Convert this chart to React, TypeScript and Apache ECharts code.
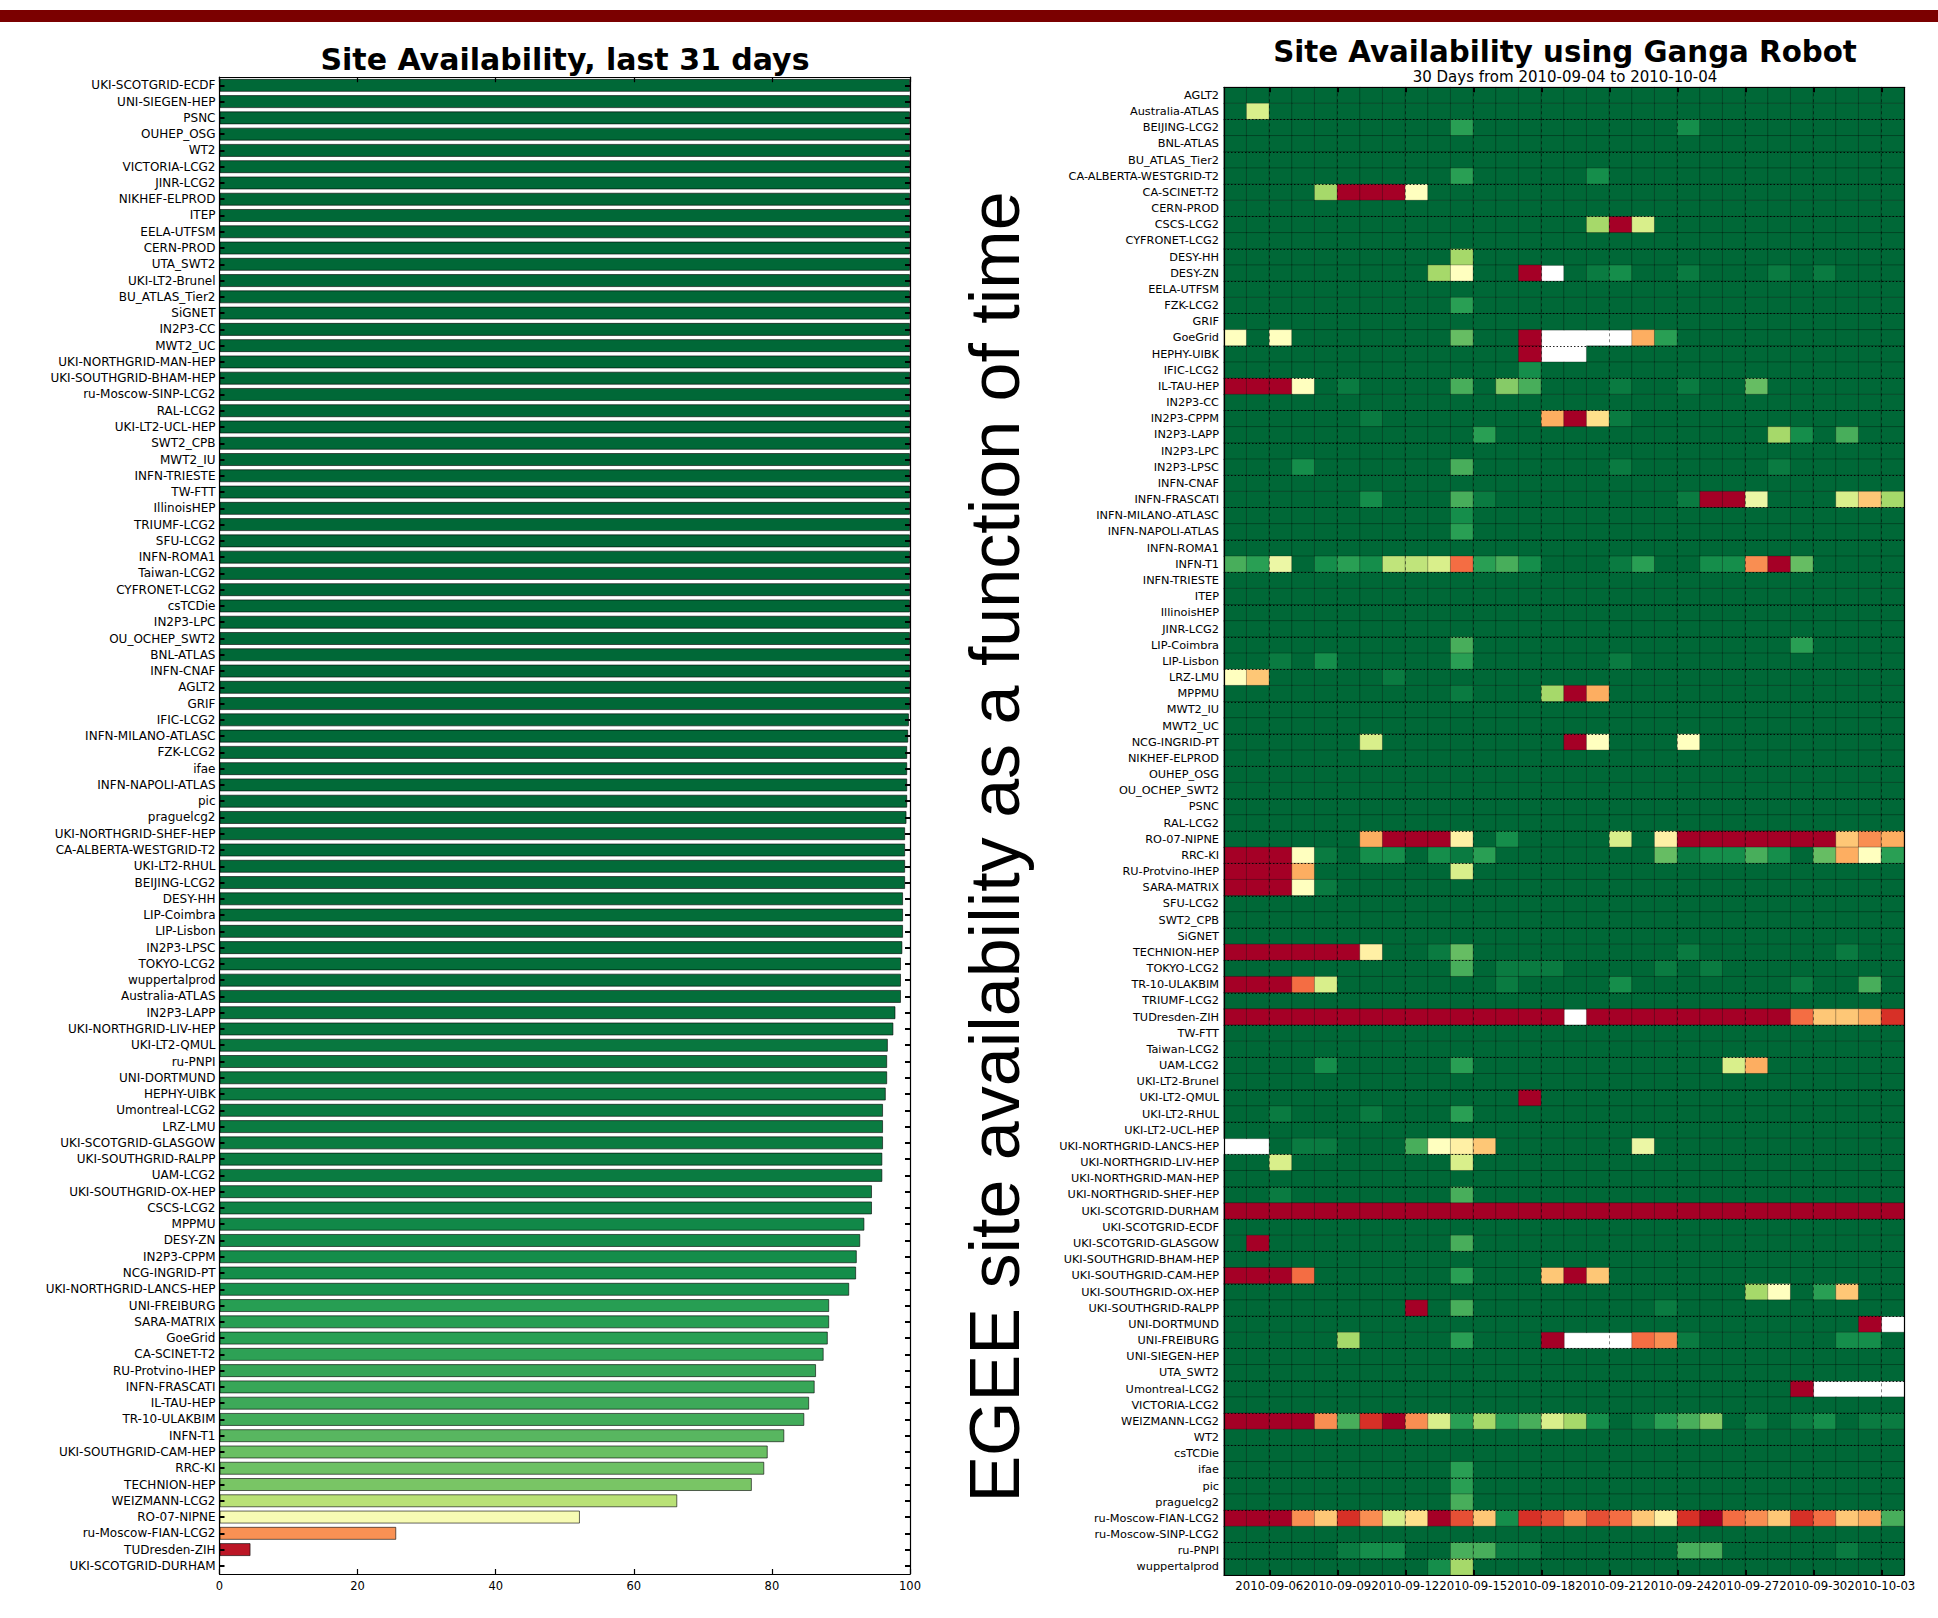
import React, { useEffect, useRef } from "react";
import * as echarts from "echarts";

// ---------- Left chart: availability over last 31 days ----------
const barSites = [
  "UKI-SCOTGRID-ECDF", "UNI-SIEGEN-HEP", "PSNC", "OUHEP_OSG", "WT2", "VICTORIA-LCG2", "JINR-LCG2",
  "NIKHEF-ELPROD", "ITEP", "EELA-UTFSM", "CERN-PROD", "UTA_SWT2", "UKI-LT2-Brunel", "BU_ATLAS_Tier2",
  "SiGNET", "IN2P3-CC", "MWT2_UC", "UKI-NORTHGRID-MAN-HEP", "UKI-SOUTHGRID-BHAM-HEP", "ru-Moscow-SINP-LCG2",
  "RAL-LCG2", "UKI-LT2-UCL-HEP", "SWT2_CPB", "MWT2_IU", "INFN-TRIESTE", "TW-FTT", "IllinoisHEP",
  "TRIUMF-LCG2", "SFU-LCG2", "INFN-ROMA1", "Taiwan-LCG2", "CYFRONET-LCG2", "csTCDie", "IN2P3-LPC",
  "OU_OCHEP_SWT2", "BNL-ATLAS", "INFN-CNAF", "AGLT2", "GRIF", "IFIC-LCG2", "INFN-MILANO-ATLASC",
  "FZK-LCG2", "ifae", "INFN-NAPOLI-ATLAS", "pic", "praguelcg2", "UKI-NORTHGRID-SHEF-HEP",
  "CA-ALBERTA-WESTGRID-T2", "UKI-LT2-RHUL", "BEIJING-LCG2", "DESY-HH", "LIP-Coimbra", "LIP-Lisbon",
  "IN2P3-LPSC", "TOKYO-LCG2", "wuppertalprod", "Australia-ATLAS", "IN2P3-LAPP", "UKI-NORTHGRID-LIV-HEP",
  "UKI-LT2-QMUL", "ru-PNPI", "UNI-DORTMUND", "HEPHY-UIBK", "Umontreal-LCG2", "LRZ-LMU",
  "UKI-SCOTGRID-GLASGOW", "UKI-SOUTHGRID-RALPP", "UAM-LCG2", "UKI-SOUTHGRID-OX-HEP", "CSCS-LCG2",
  "MPPMU", "DESY-ZN", "IN2P3-CPPM", "NCG-INGRID-PT", "UKI-NORTHGRID-LANCS-HEP", "UNI-FREIBURG",
  "SARA-MATRIX", "GoeGrid", "CA-SCINET-T2", "RU-Protvino-IHEP", "INFN-FRASCATI", "IL-TAU-HEP",
  "TR-10-ULAKBIM", "INFN-T1", "UKI-SOUTHGRID-CAM-HEP", "RRC-KI", "TECHNION-HEP", "WEIZMANN-LCG2",
  "RO-07-NIPNE", "ru-Moscow-FIAN-LCG2", "TUDresden-ZIH", "UKI-SCOTGRID-DURHAM",
];

const barValues = [
  100, 100, 100, 100, 100, 100, 100, 100, 100, 100,
  100, 100, 100, 100, 100, 100, 100, 100, 100, 100,
  100, 100, 100, 100, 100, 100, 100, 100, 100, 100,
  100, 100, 100, 100, 100, 100, 100, 100, 100, 99.85,
  99.75, 99.6, 99.6, 99.6, 99.6, 99.5, 99.3, 99.3, 99.3, 99.3,
  99.0, 99.0, 99.0, 98.9, 98.7, 98.7, 98.7, 97.9, 97.6, 96.8,
  96.7, 96.7, 96.5, 96.1, 96.1, 96.1, 96.0, 96.0, 94.5, 94.5,
  93.4, 92.8, 92.3, 92.2, 91.2, 88.3, 88.3, 88.1, 87.5, 86.4,
  86.2, 85.4, 84.7, 81.8, 79.4, 78.9, 77.1, 66.3, 52.2, 25.6,
  4.5, 0,
];

const barTicks = [0, 20, 40, 60, 80, 100];

// ---------- Right chart: daily availability (Ganga Robot) ----------
const heatSites = [
  "AGLT2", "Australia-ATLAS", "BEIJING-LCG2", "BNL-ATLAS", "BU_ATLAS_Tier2", "CA-ALBERTA-WESTGRID-T2",
  "CA-SCINET-T2", "CERN-PROD", "CSCS-LCG2", "CYFRONET-LCG2", "DESY-HH", "DESY-ZN", "EELA-UTFSM",
  "FZK-LCG2", "GRIF", "GoeGrid", "HEPHY-UIBK", "IFIC-LCG2", "IL-TAU-HEP", "IN2P3-CC", "IN2P3-CPPM",
  "IN2P3-LAPP", "IN2P3-LPC", "IN2P3-LPSC", "INFN-CNAF", "INFN-FRASCATI", "INFN-MILANO-ATLASC",
  "INFN-NAPOLI-ATLAS", "INFN-ROMA1", "INFN-T1", "INFN-TRIESTE", "ITEP", "IllinoisHEP", "JINR-LCG2",
  "LIP-Coimbra", "LIP-Lisbon", "LRZ-LMU", "MPPMU", "MWT2_IU", "MWT2_UC", "NCG-INGRID-PT",
  "NIKHEF-ELPROD", "OUHEP_OSG", "OU_OCHEP_SWT2", "PSNC", "RAL-LCG2", "RO-07-NIPNE", "RRC-KI",
  "RU-Protvino-IHEP", "SARA-MATRIX", "SFU-LCG2", "SWT2_CPB", "SiGNET", "TECHNION-HEP", "TOKYO-LCG2",
  "TR-10-ULAKBIM", "TRIUMF-LCG2", "TUDresden-ZIH", "TW-FTT", "Taiwan-LCG2", "UAM-LCG2",
  "UKI-LT2-Brunel", "UKI-LT2-QMUL", "UKI-LT2-RHUL", "UKI-LT2-UCL-HEP", "UKI-NORTHGRID-LANCS-HEP",
  "UKI-NORTHGRID-LIV-HEP", "UKI-NORTHGRID-MAN-HEP", "UKI-NORTHGRID-SHEF-HEP", "UKI-SCOTGRID-DURHAM",
  "UKI-SCOTGRID-ECDF", "UKI-SCOTGRID-GLASGOW", "UKI-SOUTHGRID-BHAM-HEP", "UKI-SOUTHGRID-CAM-HEP",
  "UKI-SOUTHGRID-OX-HEP", "UKI-SOUTHGRID-RALPP", "UNI-DORTMUND", "UNI-FREIBURG", "UNI-SIEGEN-HEP",
  "UTA_SWT2", "Umontreal-LCG2", "VICTORIA-LCG2", "WEIZMANN-LCG2", "WT2", "csTCDie", "ifae", "pic",
  "praguelcg2", "ru-Moscow-FIAN-LCG2", "ru-Moscow-SINP-LCG2", "ru-PNPI", "wuppertalprod",
];

// day boundaries (31 edges), the 30 cells lie between them
const dayEdges = [
  "2010-09-04", "2010-09-05", "2010-09-06", "2010-09-07", "2010-09-08", "2010-09-09", "2010-09-10",
  "2010-09-11", "2010-09-12", "2010-09-13", "2010-09-14", "2010-09-15", "2010-09-16", "2010-09-17",
  "2010-09-18", "2010-09-19", "2010-09-20", "2010-09-21", "2010-09-22", "2010-09-23", "2010-09-24",
  "2010-09-25", "2010-09-26", "2010-09-27", "2010-09-28", "2010-09-29", "2010-09-30", "2010-10-01",
  "2010-10-02", "2010-10-03", "2010-10-04",
];
const days = dayEdges.slice(0, 30);
const tickDays = ["2010-09-06", "2010-09-09", "2010-09-12", "2010-09-15", "2010-09-18",
  "2010-09-21", "2010-09-24", "2010-09-27", "2010-09-30", "2010-10-03"];

// availability code per cell (percent), w = no data
const codeValue: Record<string, number | null> = {
  g: 100, h: 96, i: 92, j: 88, k: 84, "8": 80, l: 75, "7": 70, m: 65, "6": 60, n: 55, "5": 50,
  o: 45, "4": 40, p: 35, "3": 30, q: 25, "2": 20, r: 15, "1": 10, s: 5, "0": 0, w: null,
};

const cellCodes = [
  "ggggg ggggg ggggg ggggg ggggg ggggg", // AGLT2
  "g6ggg ggggg ggggg ggggg ggggg ggggg", // Australia-ATLAS
  "ggggg ggggg jgggg ggggg igggg ggggg", // BEIJING-LCG2
  "ggggg ggggg ggggg ggggg ggggg ggggg", // BNL-ATLAS
  "ggggg ggggg ggggg ggggg ggggg ggggg", // BU_ATLAS_Tier2
  "ggggg ggggg jgggg giggg ggggg ggggg", // CA-ALBERTA-WESTGRID-T2
  "gggg7 0005g ggggg ggggg ggggg ggggg", // CA-SCINET-T2
  "ggggg ggggg ggggg ggggg ggggg ggggg", // CERN-PROD
  "ggggg ggggg ggggg g706g ggggg ggggg", // CSCS-LCG2
  "ggggg ggggg ggggg ggggg ggggg ggggg", // CYFRONET-LCG2
  "ggggg ggggg 7gggg ggggg ggggg ggggg", // DESY-HH
  "ggggg gggg7 5gg0w ghigg hgggh ghggg", // DESY-ZN
  "ggggg ggggg ggggg ggggg ggggg ggggg", // EELA-UTFSM
  "ggggg ggggg jgggg ggggg ggggg ggggg", // FZK-LCG2
  "ggggg ggggg ggggg ggggg ggggg ggggg", // GRIF
  "5g5gg ggggg 8gg0w www3j ggggg ggggg", // GoeGrid
  "ggggg ggggg ggg0w wgggg ggggg ggggg", // HEPHY-UIBK
  "ggggg ggggg gggig ggggg ggggg ggggg", // IFIC-LCG2
  "0005g hgggg kglkg gghgg hgg8g ggggg", // IL-TAU-HEP
  "ggggg ggggg ggggg ggggg ggggg ggggg", // IN2P3-CC
  "ggggg ghggg gggg3 04hgg ggggg ggggg", // IN2P3-CPPM
  "ggggg ggggg gjggg ggggg gggg7 igkgg", // IN2P3-LAPP
  "ggggg ggggg ggggg ggggg ggggg ggggg", // IN2P3-LPC
  "gggig ggggg kgggg gghgg ggggh ggggg", // IN2P3-LPSC
  "ggggg ggggg ggggg ggggg ggggg ggggg", // INFN-CNAF
  "ggggg giggg khggg ggggg h00ng gg6p7", // INFN-FRASCATI
  "ggggg ggggg igggg ggggg ggggg ggggg", // INFN-MILANO-ATLASC
  "ggggg ggggg jgggg ggggg ggggg ggggg", // INFN-NAPOLI-ATLAS
  "ggggg ggggg ggggg ggggg ggggg ggggg", // INFN-ROMA1
  "kjngi jimm6 2jkig gghjg giiq0 8gggg", // INFN-T1
  "ggggg ggggg ggggg ggggg ggggg ggggg", // INFN-TRIESTE
  "ggggg ggggg ggggg ggggg ggggg ggggg", // ITEP
  "ggggg ggggg ggggg ggggg ggggg ggggg", // IllinoisHEP
  "ggggg ggggg ggggg ggggg ggggg ggggg", // JINR-LCG2
  "ggggg ggggg kgggg ggggg ggggg jgggg", // LIP-Coimbra
  "gghgi ggggg jgggg gghgg ggggg ggggg", // LIP-Lisbon
  "5pggg gghgg ggggg ggggg ggggg ggggg", // LRZ-LMU
  "ggggg ggggg hggg7 03ggg ggggg ggggg", // MPPMU
  "ggggg ggggg ggggg ggggg ggggg ggggg", // MWT2_IU
  "ggggg ggggg ggggg ggggg ggggg ggggg", // MWT2_UC
  "ggggg g6ggg ggggg 05ggg 5gggg ggggg", // NCG-INGRID-PT
  "ggggg ggggg ggggg ggggg ggggg ggggg", // NIKHEF-ELPROD
  "ggggg ggggg ggggg ggggg ggggg ggggg", // OUHEP_OSG
  "ggggg ggggg ggggg ggggg ggggg ggggg", // OU_OCHEP_SWT2
  "ggggg ggggg ggggg ggggg ggggg ggggg", // PSNC
  "ggggg ggggg ggggg ggggg ggggg ggggg", // RAL-LCG2
  "ggggg g3000 ogigg gg6go 00000 00pq3", // RO-07-NIPNE
  "0005h giigi hjggg gggg8 hiiki g835j", // RRC-KI
  "0003g ggggg 6gggg ggggg ggggg ggggg", // RU-Protvino-IHEP
  "0005h ggggg ggggg ggggg ggggg ggggg", // SARA-MATRIX
  "ggggg ggggg ggggg ggggg ggggg ggggg", // SFU-LCG2
  "ggggg ggggg ggggg ggggg ggggg ggggg", // SWT2_CPB
  "ggggg ggggg ggggg ggggg ggggg ggggg", // SiGNET
  "00000 0oggh 8gggg ggggg hgggg gghgg", // TECHNION-HEP
  "ggggg ggggg kghhh ggggh ghggg ggggg", // TOKYO-LCG2
  "00026 ggggg gghgg ggigg ggggg hggkg", // TR-10-ULAKBIM
  "ggggg ggggg ggggg ggggg ggggg ggggg", // TRIUMF-LCG2
  "00000 00000 00000 w0000 00000 2pp31", // TUDresden-ZIH
  "ggggg ggggg ggggg ggggg ggggg ggggg", // TW-FTT
  "ggggg ggggg ggggg ggggg ggggg ggggg", // Taiwan-LCG2
  "ggggi ggggg jgggg ggggg gg63g ggggg", // UAM-LCG2
  "ggggg ggggg ggggg ggggg ggggg ggggg", // UKI-LT2-Brunel
  "ggggg ggggg ggg0g ggggg ggggg ggggg", // UKI-LT2-QMUL
  "gghgg ghggg jgggg ggggg ggggg ggggg", // UKI-LT2-RHUL
  "ggggg ggggg ggggg ggggg ggggg ggggg", // UKI-LT2-UCL-HEP
  "wwghh gggk5 opggg gggng ggggg ggggg", // UKI-NORTHGRID-LANCS-HEP
  "gg6gg ggggg 6gggg ggggg ggggg ggggg", // UKI-NORTHGRID-LIV-HEP
  "ggggg ggggg ggggg ggggg ggggg ggggg", // UKI-NORTHGRID-MAN-HEP
  "gghgg ggggg kgggg ggggg ggggg ggggg", // UKI-NORTHGRID-SHEF-HEP
  "00000 00000 00000 00000 00000 00000", // UKI-SCOTGRID-DURHAM
  "ggggg ggggg ggggg ggggg ggggg ggggg", // UKI-SCOTGRID-ECDF
  "g0ggg ggggg kgggg ggggg ggggg ggggg", // UKI-SCOTGRID-GLASGOW
  "ggggg ggggg ggggg ggggg ggggg ggggg", // UKI-SOUTHGRID-BHAM-HEP
  "0002g ggggg jgggp 0pggg ggggg ggggg", // UKI-SOUTHGRID-CAM-HEP
  "ggggg ggggg ggggg ggggg ggg75 gjpgg", // UKI-SOUTHGRID-OX-HEP
  "ggggg ggg0g kgggg ggggh ggggg ggggg", // UKI-SOUTHGRID-RALPP
  "ggggg ggggg ggggg ggggg ggggg ggg0w", // UNI-DORTMUND
  "ggggg 7gggg jggg0 www2q hgggg ggiig", // UNI-FREIBURG
  "ggggg ggggg ggggg ggggg ggggg ggggg", // UNI-SIEGEN-HEP
  "ggggg ggggg ggggg ggggg ggggg ggggg", // UTA_SWT2
  "ggggg ggggg ggggg ggggg ggggg 0wwww", // Umontreal-LCG2
  "ggggg ggggg ggggg ggggg ggggg ggggg", // VICTORIA-LCG2
  "0000q k10q6 j7jk6 7ighj klghg highh", // WEIZMANN-LCG2
  "ggggg ggggg ggggg ggggg ggggg ggggg", // WT2
  "ggggg ggggg ggggg ggggg ggggg ggggg", // csTCDie
  "ggggg ggggg jgggg ggggg ggggg ggggg", // ifae
  "ggggg ggggg jgggg ggggg ggggg ggggg", // pic
  "ggggg ggggg kgggg ggggg ggggg ggggg", // praguelcg2
  "000qp 1q640 rpi1r qr2po 102qp 12p3k", // ru-Moscow-FIAN-LCG2
  "ggggg ggggg ggggg ggggg ggggg ggggg", // ru-Moscow-SINP-LCG2
  "ggggg hiigg kkhhg ggggg kkggg gghgg", // ru-PNPI
  "ggggg ggggi 7gggg ggggg ggggg ggggg", // wuppertalprod
];

const RdYlGn = ["#a50026", "#d73027", "#f46d43", "#fdae61", "#fee08b", "#ffffbf",
  "#d9ef8b", "#a6d96a", "#66bd63", "#1a9850", "#006837"];

const FONT = "DejaVu Sans";

export default function App() {
  const ref = useRef<HTMLDivElement>(null);

  useEffect(() => {
    if (!ref.current) return;
    const chart = echarts.init(ref.current, null, { renderer: "svg" });

    const heatData: number[][] = [];
    cellCodes.forEach((row, r) => {
      row.replace(/ /g, "").split("").forEach((c, d) => {
        const v = codeValue[c];
        if (v !== null && v !== undefined) heatData.push([d, r, v]);
      });
    });

    const barData = barValues.map((v, i) => [v, barSites[i]]);
    const edgeTick = (i: number) => tickDays.indexOf(dayEdges[i]) >= 0;

    const frame = { show: true, onZero: false, lineStyle: { color: "#000", width: 1.2 } };
    const labelStyle = { color: "#000", fontFamily: FONT, fontSize: 11.5 };

    const option: any = {
      animation: false,
      backgroundColor: "#fff",
      textStyle: { fontFamily: FONT },
      graphic: [
        { type: "rect", shape: { x: 0, y: 10, width: 1938, height: 12 }, style: { fill: "#7b0000" } },
        {
          type: "text", x: 565, y: 59,
          style: { text: "Site Availability, last 31 days", fontFamily: FONT, fontWeight: "bold", fontSize: 30, fill: "#000", align: "center", verticalAlign: "middle" },
        },
        {
          type: "text", x: 1565, y: 52,
          style: { text: "Site Availability using Ganga Robot", fontFamily: FONT, fontWeight: "bold", fontSize: 29.3, fill: "#000", align: "center", verticalAlign: "middle" },
        },
        {
          type: "text", x: 1565, y: 77,
          style: { text: "30 Days from 2010-09-04 to 2010-10-04", fontFamily: FONT, fontSize: 15, fill: "#000", align: "center", verticalAlign: "middle" },
        },
        {
          type: "text", x: 995, y: 847, rotation: Math.PI / 2,
          style: { text: "EGEE site availability as a function of time", fontFamily: "Liberation Sans", fontSize: 70, fill: "#000", align: "center", verticalAlign: "middle" },
        },
      ],
      grid: [
        { left: 219.5, top: 77.2, width: 690.5, height: 1496.8 },
        { left: 1224, top: 87.3, width: 680, height: 1487.7 },
      ],
      xAxis: [
        {
          type: "value", gridIndex: 0, position: "bottom", min: 0, max: 100, interval: 20, z: 3,
          axisLine: frame, axisTick: { show: true, inside: true, length: 5, lineStyle: { color: "#000", width: 1.2 } },
          axisLabel: { ...labelStyle, margin: 6, customValues: barTicks }, splitLine: { show: false },
        },
        {
          type: "value", gridIndex: 0, position: "top", min: 0, max: 100, interval: 20, z: 3,
          axisLine: frame, axisTick: { show: true, inside: true, length: 5, lineStyle: { color: "#000", width: 1.2 } },
          axisLabel: { show: false }, splitLine: { show: false },
        },
        {
          type: "category", gridIndex: 1, position: "bottom", data: days, z: 3,
          axisLine: frame, axisTick: { show: false }, axisLabel: { show: false }, splitLine: { show: false },
        },
        {
          type: "category", gridIndex: 1, position: "bottom", data: dayEdges, boundaryGap: false, z: 4,
          axisLine: { show: false, onZero: false },
          axisTick: { show: true, inside: true, length: 5, interval: edgeTick, lineStyle: { color: "#000", width: 2 } },
          axisLabel: { ...labelStyle, fontSize: 11.7, margin: 5, interval: edgeTick },
          splitLine: { show: true, interval: edgeTick, lineStyle: { color: "rgba(0,0,0,0.6)", width: 0.8, type: [3, 3] } },
        },
        {
          type: "category", gridIndex: 1, position: "top", data: dayEdges, boundaryGap: false, z: 4,
          axisLine: frame,
          axisTick: { show: true, inside: true, length: 5, interval: edgeTick, lineStyle: { color: "#000", width: 2 } },
          axisLabel: { show: false }, splitLine: { show: false },
        },
      ],
      yAxis: [
        {
          type: "category", gridIndex: 0, position: "left", data: barSites, inverse: true, z: 3,
          axisLine: frame,
          axisTick: { show: true, inside: true, alignWithLabel: true, length: 5, lineStyle: { color: "#000", width: 2 } },
          axisLabel: { ...labelStyle, fontSize: 12, interval: 0, margin: 4 }, splitLine: { show: false },
        },
        {
          type: "category", gridIndex: 0, position: "right", data: barSites, inverse: true, z: 3,
          axisLine: frame,
          axisTick: { show: true, inside: true, alignWithLabel: true, length: 5, lineStyle: { color: "#000", width: 2 } },
          axisLabel: { show: false }, splitLine: { show: false },
        },
        {
          type: "category", gridIndex: 1, position: "left", data: heatSites, inverse: true, z: 4,
          axisLine: frame, axisTick: { show: false },
          axisLabel: { ...labelStyle, fontSize: 11.3, interval: 0, margin: 5 },
          splitLine: { show: true, interval: 1, lineStyle: { color: "rgba(0,0,0,0.85)", width: 1, type: [1.5, 2] } },
        },
        {
          type: "category", gridIndex: 1, position: "right", data: heatSites, inverse: true, z: 4,
          axisLine: frame, axisTick: { show: false }, axisLabel: { show: false }, splitLine: { show: false },
        },
      ],
      visualMap: [
        { type: "continuous", show: false, min: 0, max: 100, dimension: 0, seriesIndex: 0, inRange: { color: RdYlGn } },
        { type: "continuous", show: false, min: 0, max: 100, dimension: 2, seriesIndex: 1, inRange: { color: RdYlGn } },
      ],
      series: [
        {
          type: "bar", xAxisIndex: 0, yAxisIndex: 0, data: barData, encode: { x: 0, y: 1 },
          barWidth: "80%", itemStyle: { borderColor: "rgba(0,0,0,0.6)", borderWidth: 1 },
        },
        {
          type: "heatmap", xAxisIndex: 2, yAxisIndex: 2, data: heatData,
          itemStyle: { borderColor: "rgba(0,0,0,0.28)", borderWidth: 1 },
        },
      ],
    };

    chart.setOption(option);
    return () => chart.dispose();
  }, []);

  return (
    <div
      ref={ref}
      style={{ position: "absolute", left: 0, top: 0, width: 1938, height: 1618, background: "#fff" }}
    />
  );
}
